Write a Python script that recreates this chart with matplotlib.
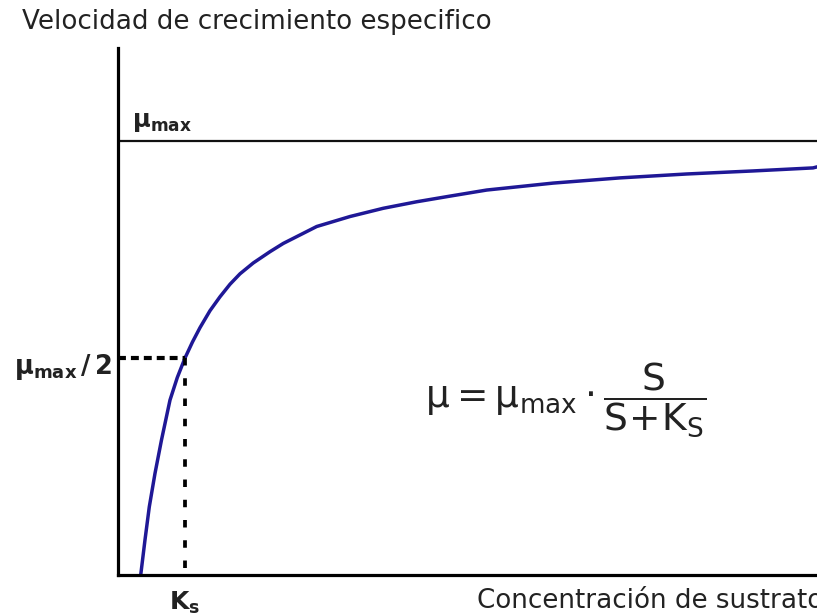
import matplotlib
matplotlib.use("Agg")
import matplotlib.pyplot as plt

plt.rcParams['font.family'] = ['DejaVu Sans']
plt.rcParams['mathtext.fontset'] = 'dejavusans'

# Data (x in units of Ks, y in units of mu_max)
mu_max = 1.0
Ks = 1.0
curve_s = [0.339, 0.403, 0.467, 0.552, 0.649, 0.776, 0.885, 1.000, 1.112, 1.224,
           1.373, 1.522, 1.672, 1.821, 2.019, 2.269, 2.467, 2.966, 3.463, 3.960,
           4.458, 4.955, 5.503, 6.493, 7.493, 8.488, 9.478, 10.373, 10.45]
curve_mu = [0.000, 0.081, 0.157, 0.234, 0.311, 0.403, 0.455, 0.500, 0.537, 0.570,
            0.609, 0.641, 0.670, 0.694, 0.719, 0.745, 0.764, 0.803, 0.826, 0.845,
            0.860, 0.873, 0.887, 0.903, 0.915, 0.924, 0.931, 0.938, 0.941]

W, H = 817, 616
fig = plt.figure(figsize=(W / 100, H / 100), dpi=100)
ax = fig.add_axes([118 / W, 1 - 575 / H, (817 - 118) / W, (575 - 48) / H])
ax.set_xlim(0, 699 / 67)
ax.set_ylim(0, 527 / 434)

for side in ['top', 'right']:
    ax.spines[side].set_visible(False)
for side in ['left', 'bottom']:
    ax.spines[side].set_linewidth(2.3)
    ax.spines[side].set_color('black')
ax.set_xticks([])
ax.set_yticks([])

ax.axhline(mu_max, color='#111111', lw=1.6)
ax.plot(curve_s, curve_mu, color='#1f1896', lw=2.5, solid_joinstyle='round')

ax.plot([0, Ks], [mu_max / 2, mu_max / 2], color='black', lw=3.0,
        linestyle=(0, (1.9, 1.2)), clip_on=False)
ax.plot([Ks, Ks], [mu_max / 2, 0], color='black', lw=2.7,
        linestyle=(0, (2.0, 3.4)), clip_on=False)

def px(x, y):
    return x / W, 1 - y / H

fig.text(*px(22, 22), 'Velocidad de crecimiento especifico', fontsize=18.8,
         color='#222222', va='center', ha='left')
fig.text(*px(477, 601), 'Concentración de sustrato', fontsize=18.8,
         color='#222222', va='center', ha='left')
fig.text(*px(132, 122), r'$\mathbf{μ_{max}}$', fontsize=17.5,
         color='#222222', va='center', ha='left')
fig.text(*px(14, 367), r'$\mathbf{μ_{max}\,/\,2}$', fontsize=18.5,
         color='#222222', va='center', ha='left')
fig.text(*px(185, 603), r'$\mathbf{K_s}$', fontsize=18,
         color='#222222', va='center', ha='center')
fig.text(*px(425, 400),
         r'$\mathrm{μ} = \mathrm{μ_{max}} \cdot \dfrac{\mathrm{S}}{\mathrm{S\!+\!K_S}}$',
         fontsize=27, color='#222222', va='center', ha='left')

fig.savefig('out.png', dpi=100)
